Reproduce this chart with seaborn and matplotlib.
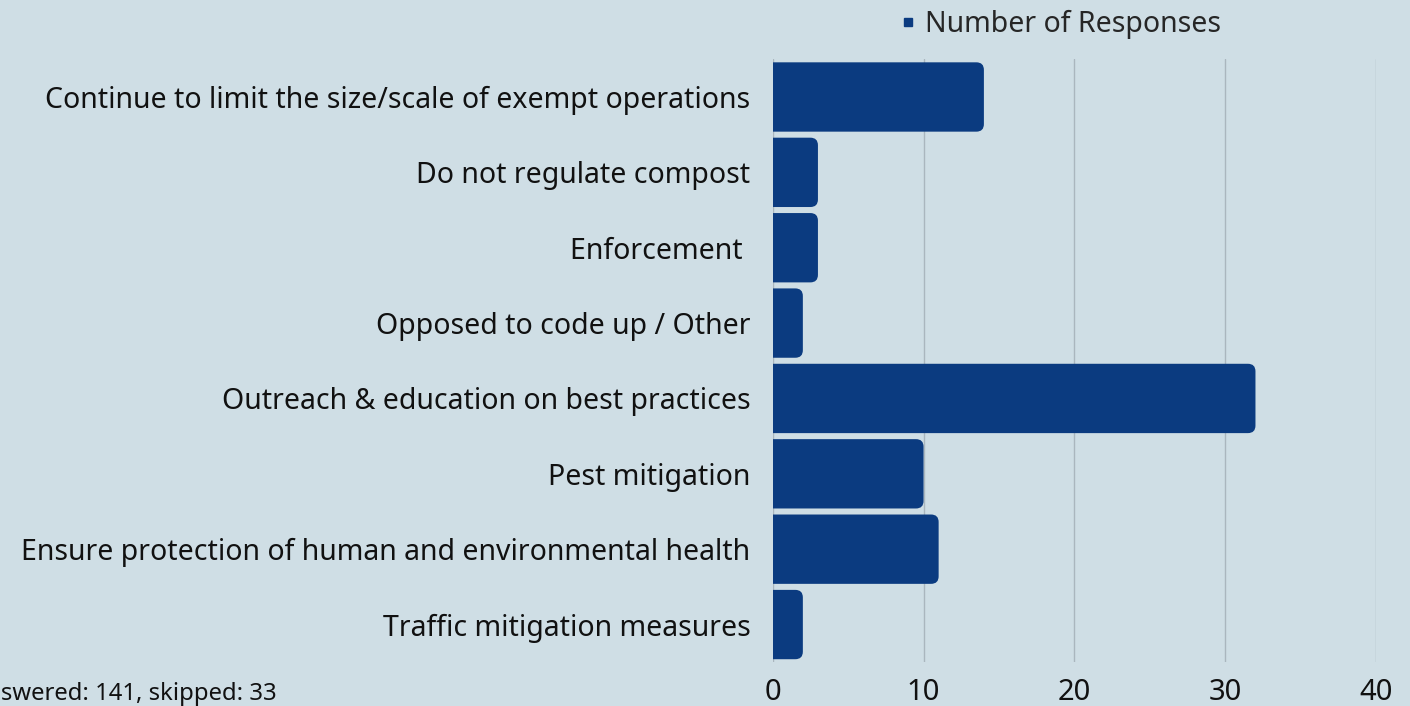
import matplotlib
matplotlib.use("Agg")
import matplotlib.pyplot as plt
from matplotlib.patches import FancyBboxPatch
from matplotlib.lines import Line2D
import pandas as pd
import seaborn as sns

categories = [
    "Continue to limit the size/scale of exempt operations",
    "Do not regulate compost",
    "Enforcement ",
    "Opposed to code up / Other",
    "Outreach & education on best practices",
    "Pest mitigation",
    "Ensure protection of human and environmental health",
    "Traffic mitigation measures",
]
responses = [14, 3, 3, 2, 32, 10, 11, 2]
series_name = "Number of Responses"
footnote = "Answered: 141, skipped: 33"
x_ticks = [0, 10, 20, 30, 40]

BG = "#CFDEE5"
BAR = "#0B3B80"

sns.set_theme(style="white")
plt.rcParams["font.family"] = ["Noto Sans", "DejaVu Sans"]

df = pd.DataFrame({"category": categories, "responses": responses})

fig = plt.figure(figsize=(14.1, 7.06), dpi=100, facecolor=BG)
ax = fig.add_axes([0.548, 0.062, 0.428, 0.854])
ax.set_facecolor(BG)

sns.barplot(data=df, y="category", x="responses", orient="h",
            color=BAR, width=0.92, saturation=1, ax=ax, zorder=3)

# swap plain bars for rounded ones (left corners hidden by the axes clip)
for p in list(ax.patches):
    x0, y0 = p.get_x(), p.get_y()
    w, h = p.get_width(), p.get_height()
    rb = FancyBboxPatch((x0 - 1, y0), w + 1, h,
                        boxstyle="round,pad=0,rounding_size=0.5",
                        mutation_aspect=0.2,
                        facecolor=BAR, edgecolor="none", zorder=3)
    p.remove()
    ax.add_patch(rb)
    rb.set_clip_path(ax.patch)

ax.set_xlim(0, 40)
ax.set_ylim(7.5, -0.5)
ax.set_xticks(x_ticks)
ax.xaxis.grid(True, color="#AAB6BE", linewidth=1)
ax.set_axisbelow(True)
for s in ax.spines.values():
    s.set_visible(False)
ax.set_xlabel("")
ax.set_ylabel("")
ax.tick_params(axis="x", labelsize=21, length=0, pad=11, labelcolor="#111111")
ax.tick_params(axis="y", labelsize=20.5, length=0, pad=16, labelcolor="#111111")

handle = Line2D([], [], marker="s", linestyle="none", color=BAR, markersize=6)
fig.legend([handle], [series_name], loc="center", bbox_to_anchor=(0.752, 0.966),
           frameon=False, fontsize=20.5, handlelength=0.6, handletextpad=0.3)

fig.text(0.1965, 0.008, footnote, ha="right", va="baseline", fontsize=17.2,
         color="#111111")

fig.savefig("out.png", dpi=100, facecolor=BG)
